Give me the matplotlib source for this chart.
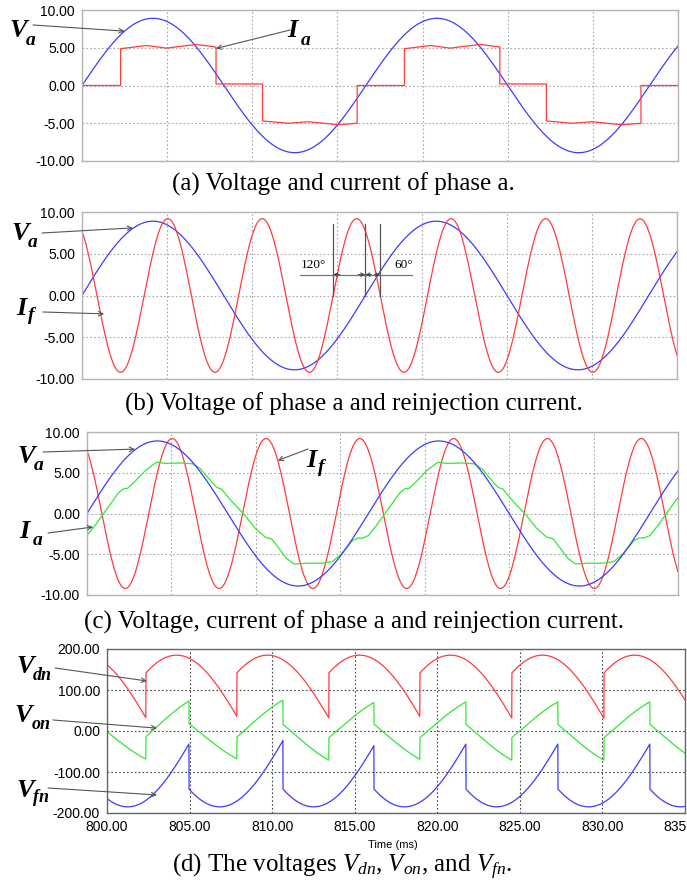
import numpy as np
import matplotlib.pyplot as plt

plt.rcParams['axes.unicode_minus'] = False
plt.rcParams['mathtext.fontset'] = 'custom'
plt.rcParams['mathtext.rm'] = 'Liberation Serif'
plt.rcParams['mathtext.it'] = 'Liberation Serif:italic'

W, H = 687, 889
T0, T1 = 800.0, 835.0
PERIOD = 16.667          # fundamental period, ms

# phase voltage Va (panels a, b, c)
va_amp = 8.9
# reinjection current If (3rd harmonic)
if_amp = 9.2
if_peak_deg = 109.0

# phase current Ia in (a): one fundamental period, degrees / value
ia_deg = [0, 49, 49, 82, 107, 145, 170, 170, 229, 229, 262, 287, 325, 349, 349, 360]
ia_val = [0, 0, 4.87, 5.3, 4.95, 5.44, 5.1, 0.2, 0.2, -4.7, -5.0, -4.8, -5.2, -5.0, 0, 0]

# phase current Ia in (c): one fundamental period, degrees / value
iac_deg = [0, 10, 25, 40, 46, 52, 60, 75, 89, 100, 120, 135, 145, 160, 166, 172,
           185, 200, 215, 228, 236, 245, 255, 265, 280, 300, 314, 325, 340, 347, 353, 360]
iac_val = [-2.7, -1.5, 0.5, 2.5, 3.0, 3.1, 3.8, 5.3, 6.3, 6.15, 6.2, 6.1, 5.5, 3.8, 3.2, 3.0,
           1.5, 0.0, -1.8, -2.9, -3.1, -4.2, -5.5, -6.2, -6.1, -6.1, -5.9, -5.0, -3.3, -3.0, -3.0, -2.7]

# (d) rectifier voltages: commutation instants (ms) and arc
vdn_jumps = [796.8, 802.36, 807.87, 813.44, 818.95, 824.52, 830.1]
vfn_jumps = [799.4, 804.97, 810.66, 816.17, 821.74, 827.31, 832.88]
v_peak = 185.0
seg_start_deg = -40.0

yticks_a = [10, 5, 0, -5, -10]
ylabels_a = ['10.00', '5.00', '0.00', '-5.00', '-10.00']
yticks_d = [200, 100, 0, -100, -200]
ylabels_d = ['200.00', '100.00', '0.00', '-100.00', '-200.00']
xticks = [800, 805, 810, 815, 820, 825, 830, 835]
xlabels = ['800.00', '805.00', '810.00', '815.00', '820.00', '825.00', '830.00', '835.00']

RED, BLUE, GREEN = '#ff3c3c', '#3c3cff', '#33e833'

fig = plt.figure(figsize=(W / 100, H / 100), dpi=100)


def add_ax(l, t, r, b):
    return fig.add_axes([l / W, 1 - b / H, (r - l) / W, (b - t) / H])


def fpos(x, y):
    return (x / W, 1 - y / H)


def deg_to_t(deg):
    return T0 + np.asarray(deg) / 360.0 * PERIOD


def tile(deg, val, n=3):
    d = np.concatenate([np.asarray(deg) + 360 * k for k in range(n)])
    v = np.tile(val, n)
    return deg_to_t(d), v


def style(ax, ticks, labels, ylim, spine, grid, pad):
    ax.set_xlim(T0, T1)
    ax.set_ylim(*ylim)
    ax.set_yticks(ticks)
    ax.set_yticklabels(labels)
    ax.set_xticks(xticks)
    ax.tick_params(length=0, labelsize=10, pad=pad)
    for lab in ax.get_yticklabels():
        lab.set_family('Liberation Sans')
    for s in ax.spines.values():
        s.set_color(spine)
        s.set_linewidth(1.0)
    ax.grid(True, linestyle=(0, (1.5, 2)), color=grid, linewidth=0.8)
    ax.set_axisbelow(True)


def label(main, sub, x, yb, sx, syb, size=19, subsize=14):
    kw = dict(family='Liberation Serif', weight='bold', style='italic')
    fig.text(*fpos(x, yb), main, fontsize=size, va='baseline', ha='left', **kw)
    fig.text(*fpos(sx, syb), sub, fontsize=subsize, va='baseline', ha='left', **kw)


def arrow(ax, xy, tail):
    ax.annotate('', xy=xy, xycoords='data', xytext=fpos(*tail),
                textcoords='figure fraction', annotation_clip=False,
                arrowprops=dict(arrowstyle='->', color='#555555', lw=0.8,
                                shrinkA=0, shrinkB=0, mutation_scale=8))


t = np.linspace(T0, T1, 3501)
theta = np.radians((t - T0) / PERIOD * 360)
va = va_amp * np.sin(theta)
i_f = if_amp * np.cos(3 * (theta - np.radians(if_peak_deg)))

# ---------------- (a)
ax1 = add_ax(82, 10, 678, 161)
style(ax1, yticks_a, ylabels_a, (-10, 10), '#b4b4b4', '#a8a8a8', 5)
ax1.set_xticklabels([])
ax1.plot(t, va, color=BLUE, lw=0.9)
ta, ia = tile(ia_deg, ia_val)
ax1.plot(ta, ia, color=RED, lw=0.9)
label('V', 'a', 9, 37, 26, 45)
label('I', 'a', 287, 37, 301, 45)
arrow(ax1, (802.5, 7.2), (33, 25))
arrow(ax1, (807.87, 4.9), (290, 30))

# ---------------- (b)
ax2 = add_ax(82, 212, 677, 379)
style(ax2, yticks_a, ylabels_a, (-10, 10), '#b4b4b4', '#a8a8a8', 5)
ax2.set_xticklabels([])
ax2.plot(t, va, color=BLUE, lw=0.9)
ax2.plot(t, i_f, color=RED, lw=0.9)
label('V', 'a', 11, 240, 28, 247)
label('I', 'f', 16, 315, 28, 320)
arrow(ax2, (803.0, 8.1), (42, 233))
arrow(ax2, (801.3, -2.2), (43, 312))

# 120 / 60 degree marks
z1 = deg_to_t(if_peak_deg + 240 - 30)
z2 = deg_to_t(360)
z3 = deg_to_t(if_peak_deg + 240 + 30)
for xv in (z1, z2, z3):
    ax2.plot([xv, xv], [0, 8.6], color='#555555', lw=0.9)
ax2.plot([812.8, 819.4], [2.5, 2.5], color='#777777', lw=0.9)
mk = dict(color='#444444', lw=0.8, arrowstyle='->', mutation_scale=6, shrinkA=0, shrinkB=0)
ax2.annotate('', xy=(z1, 2.5), xytext=(z1 + 0.4, 2.5), arrowprops=mk)
ax2.annotate('', xy=(z2, 2.5), xytext=(z2 - 0.4, 2.5), arrowprops=mk)
ax2.annotate('', xy=(z2, 2.5), xytext=(z2 + 0.35, 2.5), arrowprops=mk)
ax2.annotate('', xy=(z3, 2.5), xytext=(z3 - 0.35, 2.5), arrowprops=mk)
ax2.text(813.6, 2.9, '120°', fontsize=9.5, family='Liberation Serif', ha='center', va='bottom')
ax2.text(818.9, 2.9, '60°', fontsize=9.5, family='Liberation Serif', ha='center', va='bottom')

# ---------------- (c)
ax3 = add_ax(87, 432, 678, 595)
style(ax3, yticks_a, ylabels_a, (-10, 10), '#b4b4b4', '#a8a8a8', 5)
ax3.set_xticklabels([])
ax3.plot(t, i_f, color=RED, lw=0.9)
tc, iac = tile(iac_deg, iac_val)
ax3.plot(tc, iac, color=GREEN, lw=0.9)
ax3.plot(t, va, color=BLUE, lw=0.9)
label('V', 'a', 17, 463, 34, 470)
label('I', 'a', 19, 538, 33, 545)
label('I', 'f', 306, 467, 318, 472)
arrow(ax3, (802.84, 7.9), (43, 452))
arrow(ax3, (800.36, -1.65), (48, 533))
arrow(ax3, (811.3, 6.5), (308, 449))

# ---------------- (d)
def rect_voltage(tt, jumps, sign):
    j = np.asarray(jumps)
    idx = np.searchsorted(j, tt, side='right') - 1
    phi = np.radians(seg_start_deg + (tt - j[idx]) / PERIOD * 360)
    return sign * v_peak * np.cos(phi)


vdn = rect_voltage(t, vdn_jumps, 1)
vfn = rect_voltage(t, vfn_jumps, -1)
von = (vdn + vfn) / 2

ax4 = add_ax(107, 649, 685, 813)
style(ax4, yticks_d, ylabels_d, (-200, 200), '#666666', '#444444', 5)
ax4.set_xticklabels(xlabels, family='Liberation Sans', fontsize=10)
ax4.plot(t, vdn, color=RED, lw=0.9)
ax4.plot(t, von, color=GREEN, lw=0.9)
ax4.plot(t, vfn, color=BLUE, lw=0.9)
label('V', 'dn', 16, 673, 33, 680, subsize=13)
label('V', 'on', 14, 722, 32, 729, subsize=13)
label('V', 'fn', 16, 797, 33, 802, subsize=13)
arrow(ax4, (802.42, 122), (55, 668))
arrow(ax4, (803.03, 7), (53, 720))
arrow(ax4, (803.03, -156), (48, 788))
fig.text(*fpos(393, 845), 'Time (ms)', fontsize=8, family='Liberation Sans', ha='center', va='center')

# ---------------- captions
cap = dict(fontsize=18, family='Liberation Serif', ha='center', va='center')
fig.text(*fpos(343, 184), '(a) Voltage and current of phase a.', **cap)
fig.text(*fpos(354, 404), '(b) Voltage of phase a and reinjection current.', **cap)
fig.text(*fpos(354, 622), '(c) Voltage, current of phase a and reinjection current.', **cap)
fig.text(*fpos(342, 867), r'(d) The voltages $V_{dn}$, $V_{on}$, and $V_{fn}$.', **cap)

fig.savefig('out.png', dpi=100)
plt.close(fig)
